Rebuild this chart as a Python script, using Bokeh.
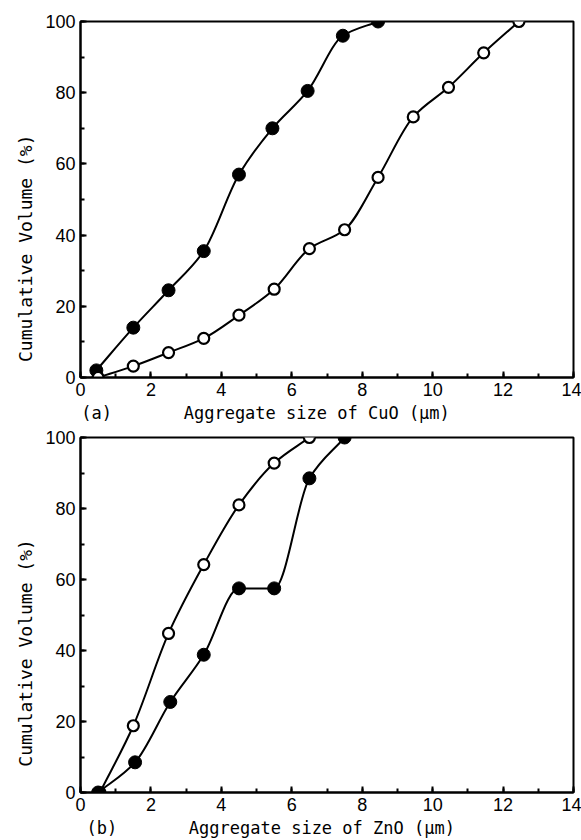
import numpy as np
from bokeh.plotting import figure
from bokeh.layouts import column
from bokeh.models import Range1d, SingleIntervalTicker
from bokeh.embed import file_html
from bokeh.resources import INLINE

# ---- data ----
cuo_filled_x = [0.45, 1.5, 2.5, 3.5, 4.5, 5.45, 6.45, 7.45, 8.45]
cuo_filled_y = [2, 14, 24.5, 35.5, 57, 70, 80.5, 96, 100]
cuo_open_x = [0.5, 1.5, 2.5, 3.5, 4.5, 5.5, 6.5, 7.5, 8.45, 9.45, 10.45, 11.45, 12.45]
cuo_open_y = [0, 3.2, 7, 11, 17.5, 24.8, 36.2, 41.5, 56.2, 73.2, 81.5, 91.2, 100]

zno_open_x = [0.55, 1.5, 2.5, 3.5, 4.5, 5.5, 6.5]
zno_open_y = [0, 18.8, 44.8, 64.2, 81, 92.8, 100]
zno_filled_x = [0.5, 1.55, 2.55, 3.5, 4.5, 5.5, 6.5, 7.5]
zno_filled_y = [0, 8.5, 25.5, 38.8, 57.5, 57.5, 88.5, 100]

panel_tags = ["(a)", "(b)"]
x_labels = ["Aggregate size of CuO (\u03bcm)", "Aggregate size of ZnO (\u03bcm)"]
y_label = "Cumulative Volume (%)"

TICK_FONT = "Liberation Sans"
LABEL_FONT = "DejaVu Sans Mono"
NB = "\u00a0"


def pchip_bezier(xs, ys):
    x = np.asarray(xs, float)
    y = np.asarray(ys, float)
    h = np.diff(x)
    d = np.diff(y) / h
    n = len(x)
    m = np.zeros(n)
    m[0] = d[0]
    m[-1] = d[-1]
    for k in range(1, n - 1):
        if d[k - 1] * d[k] <= 0:
            m[k] = 0.0
        else:
            w1 = 2 * h[k] + h[k - 1]
            w2 = h[k] + 2 * h[k - 1]
            m[k] = (w1 + w2) / (w1 / d[k - 1] + w2 / d[k])
    return dict(x0=x[:-1], y0=y[:-1], x1=x[1:], y1=y[1:],
                cx0=x[:-1] + h / 3, cy0=y[:-1] + m[:-1] * h / 3,
                cx1=x[1:] - h / 3, cy1=y[1:] - m[1:] * h / 3)


def make_panel(height, border, series, xlab, tag, ypad, gap, xpad):
    left, right, top, bottom = border
    p = figure(width=581, height=height, output_backend="svg", toolbar_location=None,
               x_range=Range1d(0, 14), y_range=Range1d(0, 100),
               min_border_left=left, min_border_right=right,
               min_border_top=top, min_border_bottom=bottom)
    p.xgrid.visible = False
    p.ygrid.visible = False
    p.outline_line_color = "black"
    p.outline_line_width = 2
    p.background_fill_color = "white"
    p.border_fill_color = "white"
    p.xaxis.ticker = SingleIntervalTicker(interval=2, num_minor_ticks=2)
    p.yaxis.ticker = SingleIntervalTicker(interval=20, num_minor_ticks=2)
    for ax in (p.xaxis[0], p.yaxis[0]):
        ax.axis_line_width = 2
        ax.axis_line_color = "black"
        ax.major_tick_in = 6
        ax.major_tick_out = 0
        ax.minor_tick_in = 4
        ax.minor_tick_out = 0
        ax.major_tick_line_width = 2
        ax.minor_tick_line_width = 2
        ax.major_label_text_font = TICK_FONT
        ax.major_label_text_font_size = "18px"
        ax.major_label_text_color = "black"
        ax.major_label_standoff = 5
        ax.axis_label_text_font = LABEL_FONT
        ax.axis_label_text_font_style = "normal"
        ax.axis_label_text_font_size = "17px"
        ax.axis_label_text_color = "black"
        ax.axis_label_standoff = 4
    p.yaxis.axis_label_standoff = 6
    p.yaxis.axis_label_text_font_size = "18px"
    # y label: trailing no-break spaces push the visible text down like the reference
    p.yaxis.axis_label = y_label + NB * ypad
    # x label: panel tag on the same line, shifted left like the reference
    p.xaxis.axis_label = tag + NB * gap + xlab + NB * xpad
    for xs, ys, filled in series:
        bz = pchip_bezier(xs, ys)
        p.bezier(x0=bz["x0"], y0=bz["y0"], x1=bz["x1"], y1=bz["y1"],
                 cx0=bz["cx0"], cy0=bz["cy0"], cx1=bz["cx1"], cy1=bz["cy1"],
                 line_color="black", line_width=2)
    for xs, ys, filled in series:
        if filled:
            p.scatter(xs, ys, size=13, marker="circle", fill_color="black",
                      line_color="black", line_width=1)
        else:
            p.scatter(xs, ys, size=11, marker="circle", fill_color="white",
                      line_color="black", line_width=2.2)
    return p


p1 = make_panel(425, (77, 8, 21, 40),
                [(cuo_filled_x, cuo_filled_y, True), (cuo_open_x, cuo_open_y, False)],
                x_labels[0], panel_tags[0], 9, 7, 12)
p2 = make_panel(415, (80, 6, 12, 40),
                [(zno_open_x, zno_open_y, False), (zno_filled_x, zno_filled_y, True)],
                x_labels[1], panel_tags[1], 7, 7, 11)

layout = column(p1, p2, spacing=0)
open("out.html", "w").write(file_html(layout, INLINE))
